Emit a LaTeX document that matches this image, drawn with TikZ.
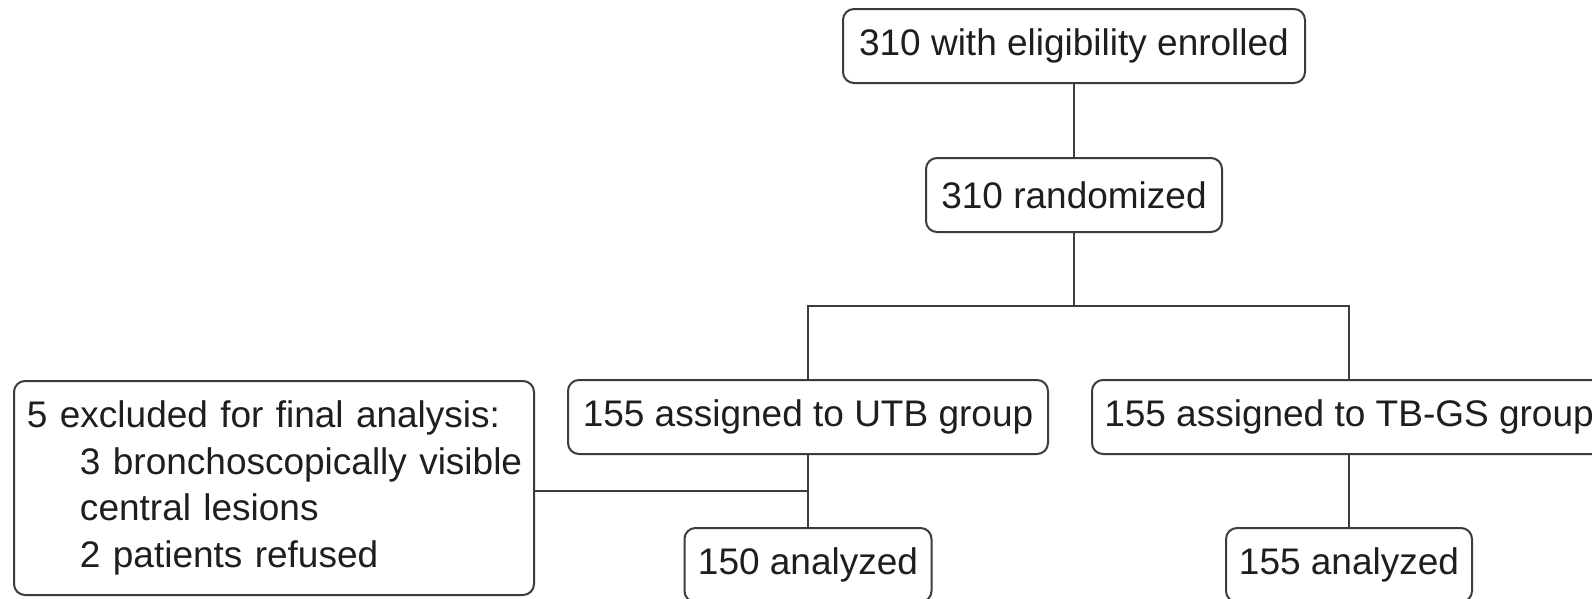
\documentclass[tikz,border=0pt]{standalone}
\usepackage{fontspec}
\setmainfont{Liberation Sans}
\definecolor{linegray}{HTML}{3C3C3C}
\definecolor{textblack}{HTML}{1E1E1E}
\newcommand{\boxfont}{\fontsize{37pt}{46.5pt}\selectfont}
\tikzset{
  x=1pt, y=-1pt,
  flowbox/.style={draw=linegray, line width=2pt, rounded corners=11pt,
    minimum height=74pt, inner sep=0pt, font=\boxfont, text=textblack},
  conn/.style={draw=linegray, line width=2pt}
}
\begin{document}
\begin{tikzpicture}
\useasboundingbox (0,0) rectangle (1592,598);
\clip (0,0) rectangle (1592,598);
\fill[white] (0,0) rectangle (1592,598);
\node[flowbox, minimum width=462pt] (top) at (1074,46) {310 with eligibility enrolled};
\node[flowbox, minimum width=296pt] (rand) at (1074,195) {310 randomized};
\node[flowbox, minimum width=480pt] (utb) at (808,417) {155 assigned to UTB group};
\node[flowbox, minimum width=514pt] (tbgs) at (1349,417) {155 assigned to TB-GS group};
\node[flowbox, minimum width=520pt, minimum height=214pt, text width=494pt, align=left] (excl) at (274,488)
  {\mbox{5 excluded for final analysis:}\\
   \mbox{\hspace*{53pt}3 bronchoscopically visible}\\
   \mbox{\hspace*{53pt}central lesions}\\
   \mbox{\hspace*{53pt}2 patients refused}};
\node[flowbox, minimum width=247pt] (a150) at (808,565) {150 analyzed};
\node[flowbox, minimum width=246pt] (a155) at (1349,565) {155 analyzed};
\coordinate (split) at (1074,306);
\coordinate (join) at (808,491);
\draw[conn] (top) -- (rand);
\draw[conn] (rand.south) -- (split);
\draw[conn] (utb.north) |- (split) -| (tbgs.north);
\draw[conn] (utb) -- (a150);
\draw[conn] (tbgs) -- (a155);
\draw[conn] (excl.east |- join) -- (join);
\end{tikzpicture}
\end{document}
